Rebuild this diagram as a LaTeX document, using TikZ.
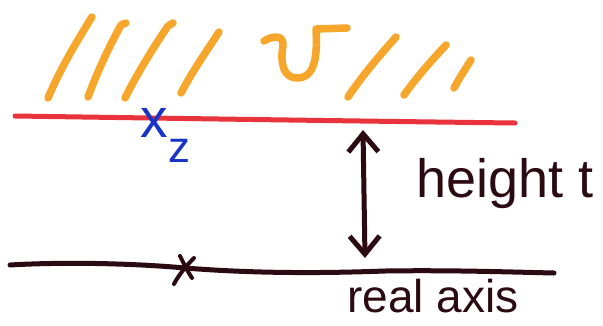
\documentclass[tikz,border=0pt]{standalone}
\usepackage{fontspec}
\setmainfont{Liberation Sans}
\usetikzlibrary{arrows.meta}
\definecolor{hatch}{HTML}{F7A62C}
\definecolor{redline}{HTML}{E8333C}
\definecolor{bluepen}{HTML}{1733C8}
\definecolor{ink}{HTML}{2B0A12}
\tikzset{
  hatchstroke/.style={hatch, line width=7.5pt, line cap=round, line join=round},
  redstroke/.style={redline, line width=5pt, line cap=round},
  inkstroke/.style={ink, line width=5pt, line cap=round, line join=round},
  marker/.style={ink, line width=4pt, line cap=round},
  label/.style={ink, inner sep=0pt, anchor=base west},
  bluelabel/.style={bluepen, inner sep=0pt, anchor=base west},
}
\begin{document}
\begin{tikzpicture}[x=1pt,y=-1pt]
\useasboundingbox (0,0) rectangle (603,325);
\fill[white] (0,0) rectangle (603,325);
% orange hatching of the region
\draw[hatchstroke] (48,98) .. controls (62,65) and (78,40) .. (90,20) -- (92,17);
\draw[hatchstroke] (88,97) .. controls (98,70) and (110,45) .. (121,25) -- (126,23);
\draw[hatchstroke] (125,98) .. controls (138,72) and (155,45) .. (168,26) -- (173,23);
\draw[hatchstroke] (181,93) .. controls (192,72) and (206,52) .. (219,32);
\draw[hatchstroke] (264,41) .. controls (272,36) and (284,34) .. (283,46)
   .. controls (280,62) and (283,78) .. (297,78)
   .. controls (312,78) and (318,64) .. (316,29) -- (347,28);
\draw[hatchstroke] (348,97) .. controls (362,76) and (380,55) .. (396,37);
\draw[hatchstroke] (404,95) .. controls (416,78) and (432,60) .. (446,45);
\draw[hatchstroke] (454,88) .. controls (460,77) and (466,68) .. (471,60);
% red line at height t
\draw[redstroke] (15,116) .. controls (150,118) and (350,121) .. (515,123);
% real axis
\draw[inkstroke] (10,265) .. controls (60,262) and (130,263) .. (185,268)
   .. controls (260,274) and (330,273) .. (385,271)
   .. controls (450,270) and (510,272) .. (554,273);
% cross on real axis
\draw[marker] (180,256) .. controls (184,264) and (188,272) .. (192,278);
\draw[marker] (194,258) .. controls (186,266) and (178,276) .. (174,284);
% height arrow
\coordinate (atop) at (363,130);
\coordinate (abot) at (365,258);
\draw[inkstroke, {Straight Barb[length=18pt,width=30pt]}-{Straight Barb[length=18pt,width=30pt]}] (atop) -- (abot);
% labels
\node[label, font=\fontsize{54}{54}\selectfont] (ht) at (416,197) {height t};
\node[label, font=\fontsize{46}{46}\selectfont] (ra) at (347,312) {real axis};
\node[bluelabel, font=\fontsize{55}{55}\selectfont] (xz) at (140,137) {x};
\node[bluelabel, font=\fontsize{44}{44}\selectfont] (zz) at (168,162) {z};
\end{tikzpicture}
\end{document}
